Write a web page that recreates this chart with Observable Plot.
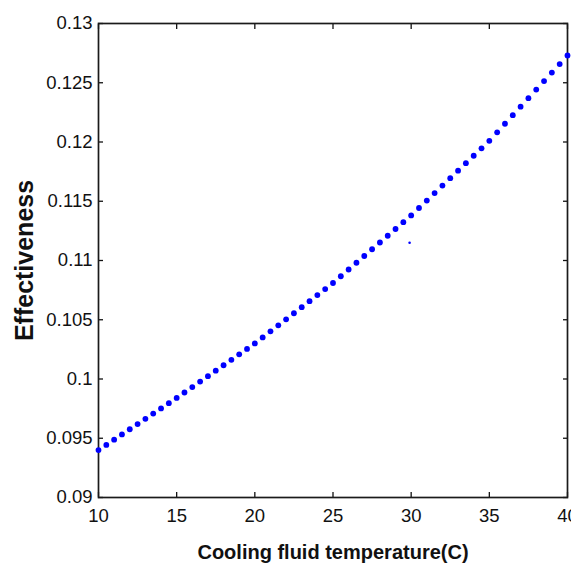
<!DOCTYPE html>
<html>
<head>
<meta charset="utf-8">
<script src="https://cdn.jsdelivr.net/npm/d3@7"></script>
<script src="https://cdn.jsdelivr.net/npm/@observablehq/plot@0.6"></script>
<style>
  html, body { margin: 0; padding: 0; background: #fff; overflow: hidden; }
</style>
</head>
<body>
<div id="chart"></div>
<script>
// Cooling fluid temperature (C) — one marker every 0.5 C
const temperature = [
  10, 10.5, 11, 11.5, 12, 12.5, 13, 13.5, 14, 14.5,
  15, 15.5, 16, 16.5, 17, 17.5, 18, 18.5, 19, 19.5,
  20, 20.5, 21, 21.5, 22, 22.5, 23, 23.5, 24, 24.5,
  25, 25.5, 26, 26.5, 27, 27.5, 28, 28.5, 29, 29.5,
  30, 30.5, 31, 31.5, 32, 32.5, 33, 33.5, 34, 34.5,
  35, 35.5, 36, 36.5, 37, 37.5, 38, 38.5, 39, 39.5, 40
];
// Effectiveness
const effectiveness = [
  0.09400, 0.09444, 0.09488, 0.09532, 0.09576, 0.09620, 0.09664, 0.09708, 0.09752, 0.09796,
  0.09840, 0.09886, 0.09932, 0.09978, 0.10024, 0.10070, 0.10116, 0.10162, 0.10208, 0.10254,
  0.10300, 0.10351, 0.10402, 0.10453, 0.10504, 0.10555, 0.10606, 0.10657, 0.10708, 0.10759,
  0.10810, 0.10867, 0.10924, 0.10981, 0.11038, 0.11095, 0.11152, 0.11209, 0.11266, 0.11323,
  0.11380, 0.11443, 0.11506, 0.11569, 0.11632, 0.11695, 0.11758, 0.11821, 0.11884, 0.11947,
  0.12010, 0.12082, 0.12154, 0.12226, 0.12298, 0.12370, 0.12442, 0.12514, 0.12586, 0.12658, 0.12730
];
// Lone stray marker visible near x = 30
const strayX = [29.9];
const strayY = [0.1115];

const xTicks = [10, 15, 20, 25, 30, 35, 40];
const xTickLabels = ["10", "15", "20", "25", "30", "35", "40"];
const yTicks = [0.09, 0.095, 0.1, 0.105, 0.11, 0.115, 0.12, 0.125, 0.13];
const yTickLabels = ["0.09", "0.095", "0.1", "0.105", "0.11", "0.115", "0.12", "0.125", "0.13"];

const xTitle = "Cooling fluid temperature(C)";
const yTitle = "Effectiveness";

const points = temperature.map((t, i) => ({x: t, y: effectiveness[i]}));
const stray = strayX.map((t, i) => ({x: t, y: strayY[i]}));

const fmtX = d => xTickLabels[xTicks.indexOf(d)];
const fmtY = d => yTickLabels[yTicks.findIndex(v => Math.abs(v - d) < 1e-9)];

const chart = Plot.plot({
  width: 571,
  height: 564,
  marginTop: 23,
  marginBottom: 67,
  marginLeft: 98,
  marginRight: 4,
  style: {
    fontFamily: "'Liberation Sans', Arial, Helvetica, sans-serif",
    fontSize: "18px",
    color: "#111",
    background: "#fff",
    overflow: "visible"
  },
  x: {domain: [10, 40]},
  y: {domain: [0.09, 0.13]},
  marks: [
    // inward ticks on all four sides
    Plot.axisX(xTicks, {anchor: "bottom", tickSize: 5, dy: -5, fill: "none", label: null, strokeWidth: 1.3}),
    Plot.axisX(xTicks, {anchor: "top", tickSize: 5, dy: 5, fill: "none", label: null, strokeWidth: 1.3}),
    Plot.axisY(yTicks, {anchor: "left", tickSize: 5, dx: 5, fill: "none", label: null, strokeWidth: 1.3}),
    Plot.axisY(yTicks, {anchor: "right", tickSize: 5, dx: -5, fill: "none", label: null, strokeWidth: 1.3}),
    // tick labels
    Plot.axisX(xTicks, {anchor: "bottom", tickSize: 0, tickPadding: 11, tickFormat: fmtX, label: null, fontSize: 18.5}),
    Plot.axisY(yTicks, {anchor: "left", tickSize: 0, tickPadding: 6, tickFormat: fmtY, label: null, fontSize: 18.5}),
    Plot.frame({stroke: "#1a1a1a", strokeWidth: 1.7}),
    // data markers
    Plot.dot(points, {x: "x", y: "y", r: 2.9, fill: "#0000ff", stroke: "none"}),
    Plot.dot(stray, {x: "x", y: "y", r: 1.3, fill: "#0000ff", stroke: "none"}),
    // axis titles
    Plot.text([xTitle], {frameAnchor: "bottom", dy: 55, lineAnchor: "middle", textAnchor: "middle", fontSize: 20, fontWeight: "bold", fill: "#111"}),
    Plot.text([yTitle], {frameAnchor: "left", dx: -74, rotate: -90, lineAnchor: "middle", textAnchor: "middle", fontSize: 25, fontWeight: "bold", fill: "#111"})
  ]
});

document.getElementById("chart").appendChild(chart);
</script>
</body>
</html>
